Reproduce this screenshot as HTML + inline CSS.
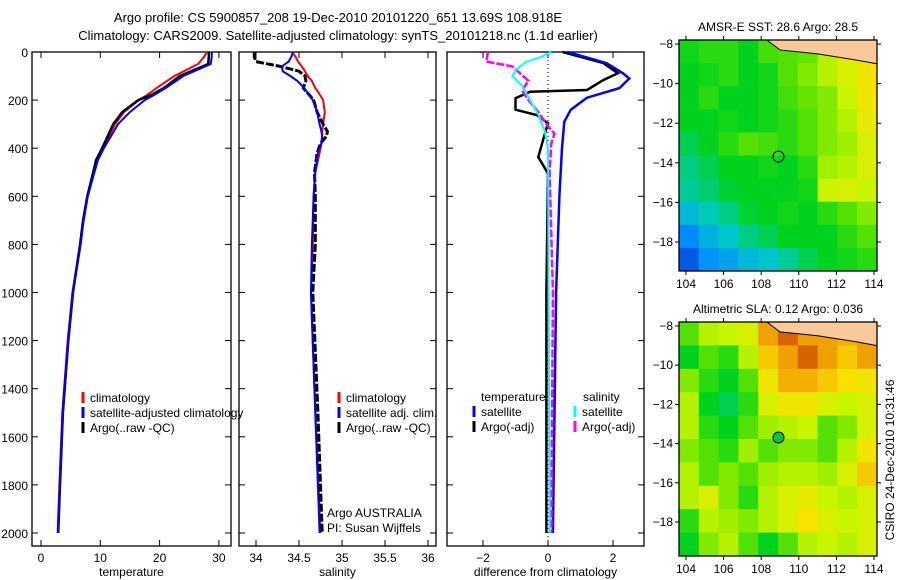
<!DOCTYPE html>
<html><head><meta charset="utf-8"><style>
body{margin:0;background:#fff}
svg{display:block;font-family:"Liberation Sans",sans-serif}
</style></head><body>
<svg id="fig" width="900" height="580" viewBox="0 0 900 580">
<text x="338" y="22" font-size="13" text-anchor="middle">Argo profile: CS 5900857_208 19-Dec-2010 20101220_651 13.69S 108.918E</text>
<text x="338" y="40" font-size="13" text-anchor="middle">Climatology: CARS2009. Satellite-adjusted climatology: synTS_20101218.nc (1.1d earlier)</text>
<text transform="translate(894,460) rotate(-90)" font-size="12" text-anchor="middle">CSIRO 24-Dec-2010 10:31:46</text>
</svg>
<script>
// ---- data ----
const depthTicks=[0,200,400,600,800,1000,1200,1400,1600,1800,2000];
const tempTicks=[0,10,20,30];
const salTicks=[34,34.5,35,35.5,36];
const diffTicks=[-2,0,2];
const tDepth=[0,20,50,100,150,180,200,250,300,400,450,500,600,700,800,1000,1200,1500,1800,2000];
const tArgo=[28.3,28.3,28.2,23.4,20.7,18.5,16.4,13.7,12.2,10.3,9.3,8.8,7.8,7.1,6.6,5.4,4.6,3.7,3.2,2.9];
const tClim=[28.0,27.5,26.5,22.5,19.5,17.8,16.5,14.0,12.5,10.5,9.5,8.9,7.8,7.1,6.6,5.3,4.5,3.6,3.1,2.8];
const tSat=[28.8,28.8,28.6,24.0,21.0,19.0,17.5,15.0,13.0,10.6,9.6,9.0,7.9,7.2,6.7,5.4,4.6,3.7,3.2,2.9];
const sDepth=[0,20,40,60,80,100,120,150,170,200,250,300,330,350,380,420,500,600,800,1000,1500,2000];
const sArgo=[33.98,33.98,34.0,34.28,34.5,34.57,34.58,34.55,34.6,34.67,34.71,34.78,34.83,34.82,34.75,34.71,34.68,34.69,34.69,34.66,34.72,34.77];
const sClim=[34.42,34.46,34.49,34.53,34.57,34.6,34.65,34.69,34.73,34.78,34.8,34.78,34.77,34.77,34.76,34.74,34.69,34.67,34.66,34.64,34.69,34.75];
const sSat=[34.43,34.41,34.38,34.3,34.31,34.4,34.48,34.56,34.6,34.66,34.71,34.74,34.76,34.77,34.76,34.72,34.69,34.67,34.65,34.64,34.69,34.74];
const dDepth=[0,46,88,117,158,165,192,240,262,296,365,437,505,1000,2000];
const dTArgo=[0.45,1.7,2.15,1.7,1.2,-0.55,-1.0,-1.0,-0.35,0,-0.15,-0.3,0,-0.05,-0.05];
const dDepth2=[0,46,88,110,150,190,240,290,400,600,1000,2000];
const dTSat=[0.6,1.8,2.3,2.5,2.2,1.2,0.7,0.5,0.43,0.35,0.25,0.15];
const dDepth3=[0,40,60,120,160,200,250,300,340,380,500,1000,2000];
const dSArgo=[-1.85,-1.9,-1.1,-0.6,-0.8,-0.6,-0.3,-0.05,0.2,0.1,0.05,0.15,0.1];
const dDepth4=[0,20,40,70,100,140,200,260,330,400,1000,2000];
const dSSat=[0.1,-0.2,-0.65,-0.95,-1.1,-0.8,-0.55,-0.3,-0.1,0,0.02,0.05];
const sstGrid=[
[.52,.55,.55,.5,.58,.6,.62,.7,.78,.8],
[.5,.52,.55,.5,.52,.6,.65,.7,.75,.8],
[.5,.55,.5,.5,.52,.58,.62,.65,.72,.8],
[.5,.5,.52,.5,.52,.55,.6,.65,.7,.78],
[.45,.5,.55,.6,.58,.55,.6,.65,.68,.75],
[.4,.45,.5,.5,.52,.5,.55,.68,.7,.75],
[.38,.42,.48,.5,.5,.5,.52,.72,.75,.72],
[.3,.35,.4,.48,.5,.52,.5,.55,.6,.65],
[.2,.28,.33,.4,.45,.5,.5,.5,.55,.6],
[.1,.22,.25,.3,.32,.38,.45,.5,.52,.55]];
const slaGrid=[
[.6,.7,.72,.75,.9,.95,.9,.9,.88,.9],
[.5,.6,.55,.7,.85,.9,.95,.9,.85,.9],
[.65,.55,.5,.6,.8,.88,.88,.85,.82,.8],
[.7,.5,.45,.55,.75,.8,.8,.75,.72,.75],
[.7,.55,.5,.6,.68,.7,.72,.6,.65,.75],
[.65,.6,.55,.68,.6,.65,.65,.6,.7,.8],
[.7,.6,.65,.6,.68,.7,.7,.68,.75,.85],
[.7,.75,.65,.55,.7,.75,.78,.72,.7,.75],
[.55,.7,.68,.65,.7,.75,.82,.75,.72,.75],
[.5,.65,.7,.6,.5,.6,.7,.72,.7,.75]];
const lonTicks=[104,106,108,110,112,114];
const latTicks=[-8,-10,-12,-14,-16,-18];

// ---- drawing ----
const svg=document.getElementById('fig');const NS='http://www.w3.org/2000/svg';
function el(tag,attrs,parent){const e=document.createElementNS(NS,tag);for(const k in attrs)e.setAttribute(k,attrs[k]);(parent||svg).appendChild(e);return e;}
function txt(x,y,s,anchor,parent){const t=el('text',{x:x,y:y,'font-size':12,'text-anchor':anchor||'start'},parent);t.textContent=s;return t;}
const TOP=52,BOT=546;
const yD=d=>52+d*0.2405;

function panel(name,x0,x1,xs,ticks,lab,fmt){
  const g=el('g',{});
  
  
  const r=el('rect',{x:x0,y:TOP,width:x1-x0,height:BOT-TOP,fill:'none',stroke:'#000','stroke-width':1.3},g);
  
  
  ticks.forEach(v=>{const x=xs(v);el('line',{x1:x,x2:x,y1:BOT,y2:BOT-6,stroke:'#000'},g);el('line',{x1:x,x2:x,y1:TOP,y2:TOP+6,stroke:'#000'},g);
    const t=txt(x,562,fmt?fmt(v):String(v),'middle',g);});
  depthTicks.forEach(d=>{const y=yD(d);el('line',{x1:x0,x2:x0+6,y1:y,y2:y,stroke:'#000'},g);el('line',{x1:x1,x2:x1-6,y1:y,y2:y,stroke:'#000'},g);});
  const t=txt((x0+x1)/2,576,lab,'middle',g);
  return g;
}
function line(g,xs,vals,depths,color,w,name,dash){
  const pts=vals.map((v,i)=>xs(v).toFixed(1)+','+yD(depths[i]).toFixed(1)).join(' ');
  const p=el('polyline',{points:pts,fill:'none',stroke:color,'stroke-width':w},g);
  if(dash)p.setAttribute('stroke-dasharray',dash);
  
  
}
function legend(g,x,y,color,label){
  el('line',{x1:x,x2:x,y1:y-10,y2:y+1,stroke:color,'stroke-width':3},g);
  const t=txt(x+7,y,label,'start',g);
}
depthTicks.forEach(d=>{const t=txt(28,yD(d)+5,String(d),'end');});

const xT=v=>41+v*5.93;
const g1=panel('temperature-panel',32,231,xT,tempTicks,'temperature');
line(g1,xT,tClim,tDepth,'#f00',2,'temp-climatology-line');
line(g1,xT,tArgo,tDepth,'#000',2.5,'temp-argo-line');
line(g1,xT,tSat,tDepth,'#00f',2,'temp-satellite-line');
legend(g1,83,402,'#f00','climatology');legend(g1,83,417,'#00f','satellite-adjusted climatology');legend(g1,83,432,'#000','Argo(..raw -QC)');

const xS=v=>256+(v-34)*86;
const g2=panel('salinity-panel',239,436,xS,salTicks,'salinity');
line(g2,xS,sClim,sDepth,'#f00',2,'sal-climatology-line');
line(g2,xS,sArgo,sDepth,'#000',3,'sal-argo-line','8,2');
line(g2,xS,sSat,sDepth,'#00f',2,'sal-satellite-line');
legend(g2,339,402,'#f00','climatology');legend(g2,339,417,'#00f','satellite adj. clim.');legend(g2,339,432,'#000','Argo(..raw -QC)');
txt(327,517,'Argo AUSTRALIA','start',g2);txt(327,532,'PI: Susan Wijffels','start',g2);

const xDf=v=>548+v*32.5;
const g3=panel('difference-panel',447,644,xDf,diffTicks,'difference from climatology',v=>v<0?'\u2212'+Math.abs(v):String(v));
el('line',{x1:xDf(0),x2:xDf(0),y1:TOP,y2:BOT,stroke:'#000','stroke-dasharray':'1,3'},g3);
line(g3,xDf,dTArgo,dDepth,'#000',2.5,'diff-temp-argo-line');
line(g3,xDf,dTSat,dDepth2,'#00f',2.5,'diff-temp-satellite-line');
line(g3,xDf,dSArgo,dDepth3,'#f0f',2.5,'diff-sal-argo-line','8,2');
line(g3,xDf,dSSat,dDepth4,'#0ff',2,'diff-sal-satellite-line');
txt(481,401,'temperature','start',g3);txt(583,401,'salinity','start',g3);
legend(g3,474,416,'#00f','satellite');legend(g3,474,431,'#000','Argo(-adj)');
legend(g3,575,416,'#0ff','satellite');legend(g3,575,431,'#f0f','Argo(-adj)');

function cmap(v){const st=[[0,[0,40,200]],[.2,[0,140,255]],[.33,[0,200,200]],[.5,[0,210,30]],[.62,[100,228,0]],[.72,[200,245,0]],[.82,[250,225,0]],[.9,[240,160,0]],[1,[190,40,0]]];
  for(let i=1;i<st.length;i++)if(v<=st[i][0]){const a=st[i-1],b=st[i],f=(v-a[0])/(b[0]-a[0]);return 'rgb('+a[1].map((c,k)=>Math.round(c+(b[1][k]-c)*f)).join(',')+')';}
  return 'rgb(190,40,0)';}
function map(name,title,grid,top,bot,latY0,latStep,markerFill){
  const g=el('g',{});
  
  
  const x0=679,x1=877,lonX=v=>686+(v-104)*18.8,latY=v=>latY0+(-8-v)*latStep;
  const rows=grid.length,cols=grid[0].length,cw=(x1-x0)/cols,ch=(bot-top)/rows;
  grid.forEach((row,r)=>row.forEach((v,c)=>{const cell=el('rect',{x:x0+c*cw,y:top+r*ch,width:cw+0.5,height:ch+0.5,fill:cmap(v)},g);
    }));
  const land=el('path',{d:`M${lonX(108.3)},${top} L${lonX(109)},${latY(-8.3)} L${lonX(111)},${latY(-8.5)} L${lonX(113)},${latY(-8.8)} L${x1},${latY(-9)} L${x1},${top} Z`,fill:'#f9c89b',stroke:'#000','stroke-width':1},g);
  
  el('rect',{x:x0,y:top,width:x1-x0,height:bot-top,fill:'none',stroke:'#000','stroke-width':1.3},g);
  const mk=el('circle',{cx:lonX(108.92),cy:latY(-13.69),r:5.5,fill:markerFill,stroke:'#000','stroke-width':1},g);
  
  lonTicks.forEach(v=>{const x=lonX(v);el('line',{x1:x,x2:x,y1:bot,y2:bot+4,stroke:'#000'},g);el('line',{x1:x,x2:x,y1:top,y2:top-4,stroke:'#000'},g);
    const t=txt(x,bot+17,String(v),'middle',g);});
  latTicks.forEach(v=>{const y=latY(v);el('line',{x1:x0,x2:x0-4,y1:y,y2:y,stroke:'#000'},g);el('line',{x1:x1,x2:x1+4,y1:y,y2:y,stroke:'#000'},g);
    const t=txt(x0-6,y+4,'\u2212'+Math.abs(v),'end',g);});
  const t=txt(778,top-9,title,'middle',g);
}
map('sst-map','AMSR-E SST: 28.6 Argo: 28.5',sstGrid,40,271,44,19.8,'none');
map('sla-map','Altimetric SLA: 0.12 Argo: 0.036',slaGrid,322,556,326,19.6,'#00c830');
</script>
</body></html>
